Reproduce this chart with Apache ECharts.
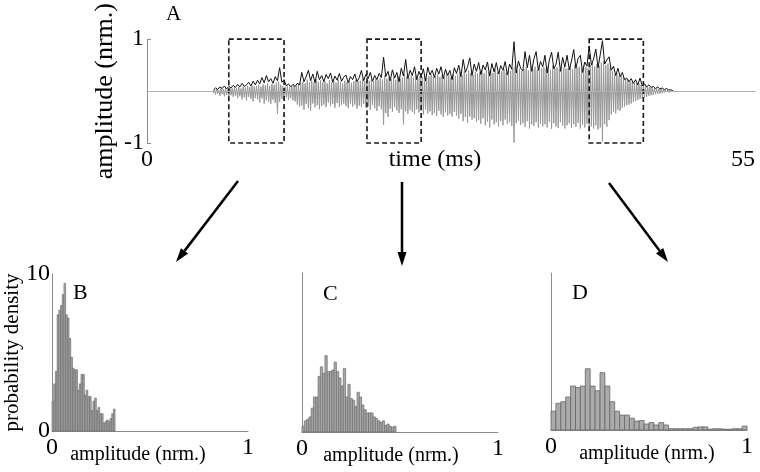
<!DOCTYPE html>
<html><head><meta charset="utf-8">
<script src="https://cdn.jsdelivr.net/npm/echarts@6/dist/echarts.min.js"></script>
<style>html,body{margin:0;padding:0;background:#fff}#c{width:760px;height:472px}</style>
</head><body><div id="c"></div><script>
// ---- waveform (panel A) ----
const traceStart = 6.0;      // ms, first sample of black trace
const traceStep = 0.2;       // ms between samples
const blackTrace = [
 0.02,0.06,0.03,0.08,0.05,0.10,0.04,0.09,0.06,0.11,
 0.07,0.13,0.08,0.15,0.09,0.12,0.17,0.10,0.19,0.12,
 0.21,0.14,0.26,0.16,0.30,0.18,0.24,0.15,0.28,0.20,
 0.45,0.17,0.22,0.10,0.14,0.08,0.13,0.09,0.15,0.12,
 0.36,0.18,0.28,0.40,0.20,0.33,0.16,0.38,0.22,0.30,
 0.18,0.32,0.24,0.35,0.17,0.29,0.21,0.34,0.19,0.27,
 0.31,0.16,0.28,0.22,0.33,0.18,0.26,0.40,0.20,0.32,
 0.24,0.36,0.19,0.30,0.22,0.34,0.26,0.65,0.28,0.38,
 0.20,0.41,0.25,0.36,0.18,0.44,0.29,0.61,0.24,0.40,
 0.30,0.47,0.22,0.38,0.27,0.43,0.20,0.46,0.31,0.40,
 0.26,0.44,0.33,0.47,0.24,0.42,0.30,0.40,0.22,0.45,
 0.34,0.50,0.28,0.61,0.36,0.47,0.64,0.30,0.52,0.38,
 0.55,0.32,0.50,0.41,0.56,0.29,0.53,0.37,0.55,0.33,
 0.49,0.40,0.57,0.31,0.52,0.42,0.95,0.35,0.58,0.44,
 0.39,0.76,0.45,0.69,0.38,0.62,0.76,0.40,0.57,0.47,
 0.69,0.35,0.60,0.75,0.43,0.52,0.75,0.38,0.65,0.46,
 0.69,0.41,0.58,0.80,0.44,0.63,0.69,0.36,0.56,0.48,
 0.87,0.50,0.62,0.81,0.45,0.70,0.97,0.52,0.60,0.66,
 0.40,0.48,0.30,0.44,0.28,0.36,0.22,0.25,0.18,0.24,
 0.15,0.22,0.12,0.25,0.10,0.14,0.08,0.12,0.07,0.09,
 0.05,0.08,0.04,0.06,0.03,0.05,0.02,0.025,0.0
];
const grayStart = 6.0;       // ms, first sample of gray trace
const grayStep = 0.1;        // ms between samples
const grayTrace = [
 -0.04,0.03,-0.07,0.05,-0.05,0.02,-0.09,0.06,-0.06,0.04,-0.10,0.05,-0.07,0.03,-0.12,0.06,-0.08,0.05,-0.11,0.07,
 -0.09,0.06,-0.14,0.08,-0.10,0.05,-0.16,0.09,-0.12,0.07,-0.18,0.10,-0.11,0.08,-0.15,0.11,-0.20,0.09,-0.13,0.10,
 -0.16,0.12,-0.22,0.09,-0.14,0.13,-0.24,0.11,-0.18,0.15,-0.21,0.10,-0.25,0.14,-0.17,0.12,-0.23,0.16,-0.44,0.18,
 -0.21,0.12,-0.15,0.09,-0.19,0.08,-0.12,0.10,-0.17,0.07,-0.14,0.09,-0.18,0.11,-0.20,0.10,-0.26,0.14,-0.30,0.16,
 -0.28,0.18,-0.36,0.15,-0.25,0.22,-0.33,0.17,-0.38,0.20,-0.24,0.16,-0.31,0.23,-0.27,0.18,-0.35,0.21,-0.29,0.17,
 -0.26,0.19,-0.31,0.15,-0.22,0.21,-0.29,0.17,-0.25,0.20,-0.32,0.16,-0.23,0.22,-0.30,0.18,-0.27,0.15,-0.24,0.20,
 -0.29,0.17,-0.33,0.21,-0.24,0.16,-0.30,0.19,-0.26,0.22,-0.34,0.18,-0.28,0.20,-0.31,0.24,-0.25,0.19,-0.32,0.21,
 -0.30,0.20,-0.36,0.23,-0.27,0.19,-0.33,0.24,-0.38,0.21,-0.29,0.25,-0.35,0.22,-0.65,0.30,-0.42,0.24,-0.50,0.26,
 -0.34,0.23,-0.40,0.27,-0.31,0.22,-0.37,0.29,-0.42,0.24,-0.35,0.26,-0.64,0.33,-0.39,0.28,-0.44,0.25,-0.36,0.30,
 -0.40,0.26,-0.44,0.30,-0.35,0.24,-0.41,0.29,-0.38,0.27,-0.45,0.31,-0.36,0.25,-0.43,0.29,-0.39,0.32,-0.46,0.27,
 -0.42,0.29,-0.48,0.33,-0.38,0.27,-0.45,0.31,-0.50,0.28,-0.41,0.34,-0.47,0.30,-0.44,0.26,-0.49,0.32,-0.40,0.29,
 -0.47,0.32,-0.53,0.36,-0.44,0.30,-0.58,0.38,-0.50,0.33,-0.61,0.40,-0.49,0.35,-0.55,0.31,-0.52,0.37,-0.59,0.34,
 -0.56,0.36,-0.63,0.40,-0.52,0.34,-0.66,0.41,-0.59,0.37,-0.70,0.39,-0.55,0.35,-0.64,0.42,-0.60,0.36,-0.68,0.40,
 -0.58,0.38,-0.66,0.42,-0.55,0.36,-0.63,0.41,-0.60,0.39,-0.67,0.44,-0.99,0.48,-0.62,0.40,-0.57,0.43,-0.65,0.39,
 -0.62,0.42,-0.69,0.46,-0.58,0.40,-0.72,0.48,-0.64,0.43,-0.67,0.47,-0.60,0.41,-0.70,0.45,-0.63,0.44,-0.68,0.46,
 -0.64,0.43,-0.70,0.47,-0.59,0.41,-0.73,0.49,-0.62,0.44,-0.68,0.46,-0.71,0.42,-0.60,0.48,-0.66,0.45,-0.72,0.43,
 -0.66,0.44,-0.62,0.48,-0.71,0.42,-0.64,0.50,-0.69,0.45,-0.61,0.47,-0.72,0.43,-0.65,0.49,-0.70,0.46,-0.63,0.44,
 -0.75,0.50,-0.68,0.54,-0.72,0.47,-0.66,0.52,-0.74,0.49,-0.70,0.55,-0.97,0.58,-0.64,0.50,-0.69,0.53,-0.56,0.46,
 -0.45,0.38,-0.40,0.32,-0.43,0.35,-0.36,0.29,-0.38,0.31,-0.32,0.26,-0.30,0.24,-0.27,0.22,-0.26,0.19,-0.24,0.18,
 -0.21,0.16,-0.19,0.15,-0.17,0.14,-0.15,0.12,-0.14,0.11,-0.12,0.10,-0.11,0.08,-0.09,0.07,-0.08,0.07,-0.07,0.06,
 -0.06,0.05,-0.05,0.04,-0.05,0.04,-0.04,0.03,-0.03,0.03,-0.02,0.02,-0.02,0.01,-0.01,0.01
];
const windows = [[7.4, 12.4], [19.9, 24.8], [40.0, 44.9]];   // ms, dashed boxes
const timeRange = [0, 55];
const ampRange = [-1, 1];

// ---- histograms (panels B, C, D) ----
const binWidthB = 0.0087;
const histB = [1.9,3.0,3.8,7.4,7.7,8.0,8.7,9.4,7.4,7.2,5.9,4.7,4.0,3.9,3.9,2.6,3.0,3.6,3.6,2.3,
 2.6,2.2,2.2,1.3,1.9,2.1,1.3,1.5,1.1,1.1,0.5,0.6,0.7,0.6,0.8,1.1,1.4];
const binWidthC = 0.0117;
const histC = [0.36,0.7,0.8,0.95,1.5,2.2,2.2,3.5,4.1,3.7,4.8,3.8,3.8,3.9,4.4,3.8,3.4,2.9,4.0,2.2,
 3.0,2.1,2.0,1.6,2.5,2.2,1.7,1.4,1.2,1.2,1.2,0.95,0.85,0.7,0.6,0.7,0.4,0.5,0.36,0.3,0.36];
const binWidthD = 0.025;
const histD = [1.2,1.7,1.8,2.1,2.8,2.7,2.8,3.9,2.8,2.5,3.65,2.8,1.8,1.2,0.95,0.95,0.75,0.57,0.6,0.38,
 0.47,0.32,0.47,0.32,0.08,0.08,0.08,0.08,0.08,0.17,0.2,0.2,0.05,0.08,0.08,0.05,0.05,0.08,0.08,0.25];
const densityRange = [0, 10];
const amplitudeRange = [0, 1];

const FONT = 'Liberation Serif';
const chart = echarts.init(document.getElementById('c'), null, {renderer: 'canvas'});

const blackData = blackTrace.map((v, i) => [+(traceStart + i * traceStep).toFixed(2), v]);
const grayData = grayTrace.map((v, i) => [+(grayStart + i * grayStep).toFixed(2), v]);
const binsOf = (vals, w) => vals.map((v, i) => [i * w, (i + 1) * w, v]);

function histRender(fill, stroke, lw) {
  return function (params, api) {
    const p0 = api.coord([api.value(0), api.value(2)]);
    const p1 = api.coord([api.value(1), 0]);
    return {type: 'rect', shape: {x: p0[0], y: p0[1], width: p1[0] - p0[0], height: p1[1] - p0[1]},
      style: {fill: fill, stroke: stroke, lineWidth: lw}};
  };
}

const axisLineStyle = {show: true, lineStyle: {color: '#8c8c8c', width: 1}};
const tickStyle = {show: true, inside: true, length: 4, lineStyle: {color: '#8c8c8c'}};
const lbl = (extra) => Object.assign({fontFamily: FONT, fontSize: 24, color: '#000'}, extra || {});

function histX(grid, padRight) {
  return {type: 'value', gridIndex: grid, min: amplitudeRange[0], max: amplitudeRange[1], interval: 1,
    axisLine: axisLineStyle, axisTick: {show: false}, splitLine: {show: false},
    axisLabel: lbl({margin: 5}),
    name: 'amplitude (nrm.)', nameLocation: 'middle', nameGap: 14, nameMoveOverlap: false,
    nameTextStyle: {fontFamily: FONT, fontSize: 20, color: '#000', padding: [0, padRight, 0, 0]}};
}
function histY(grid, showLabels) {
  const ax = {type: 'value', gridIndex: grid, min: densityRange[0], max: densityRange[1], interval: 10,
    axisLine: axisLineStyle, axisTick: {show: false}, splitLine: {show: false},
    axisLabel: lbl({show: showLabels, margin: 2})};
  if (showLabels) {
    ax.name = 'probability density'; ax.nameLocation = 'middle'; ax.nameRotate = 90; ax.nameGap = 29;
    ax.nameMoveOverlap = false;
    ax.nameTextStyle = {fontFamily: FONT, fontSize: 21, color: '#000'};
  }
  return ax;
}

function arrow(x1, y1, x2, y2) {
  const L = 14, W = 4.5;
  const dx = x2 - x1, dy = y2 - y1, len = Math.hypot(dx, dy);
  const ux = dx / len, uy = dy / len;
  const bx = x2 - ux * L, by = y2 - uy * L;
  return [
    {type: 'line', shape: {x1: x1, y1: y1, x2: bx, y2: by}, style: {stroke: '#000', lineWidth: 2.5}},
    {type: 'polygon', shape: {points: [[x2, y2], [bx - uy * W, by + ux * W], [bx + uy * W, by - ux * W]]}, style: {fill: '#000'}}
  ];
}

const titleStyle = {fontFamily: FONT, fontSize: 21, fontWeight: 'normal', color: '#000'};

const option = {
  backgroundColor: '#fff',
  animation: false,
  title: [
    {text: 'A', left: 166, top: 4, padding: 0, textStyle: titleStyle},
    {text: 'B', left: 73, top: 282, padding: 0, textStyle: Object.assign({}, titleStyle, {fontSize: 22})},
    {text: 'C', left: 323, top: 283, padding: 0, textStyle: Object.assign({}, titleStyle, {fontSize: 22})},
    {text: 'D', left: 572, top: 282, padding: 0, textStyle: Object.assign({}, titleStyle, {fontSize: 22})}
  ],
  grid: [
    {left: 147, top: 37, width: 608, height: 106},
    {left: 52, top: 274, width: 196, height: 157},
    {left: 302, top: 273, width: 196, height: 159},
    {left: 551, top: 273, width: 196, height: 157}
  ],
  xAxis: [
    {type: 'value', gridIndex: 0, min: timeRange[0], max: timeRange[1], interval: 55,
      axisLine: axisLineStyle, axisTick: {show: false}, splitLine: {show: false},
      axisLabel: lbl({margin: 5, alignMaxLabel: 'right'}),
      name: 'time (ms)', nameLocation: 'middle', nameGap: 5, nameMoveOverlap: false,
      nameTextStyle: {fontFamily: FONT, fontSize: 24, color: '#000', padding: [0, 32, 0, 0]}},
    histX(1, 24), histX(2, 18), histX(3, 4)
  ],
  yAxis: [
    {type: 'value', gridIndex: 0, min: ampRange[0], max: ampRange[1], interval: 1,
      axisLine: axisLineStyle, axisTick: tickStyle, splitLine: {show: false},
      axisLabel: lbl({margin: 3, formatter: v => (v === 0 ? '' : String(v))}),
      name: 'amplitude (nrm.)', nameLocation: 'middle', nameRotate: 90, nameGap: 29, nameMoveOverlap: false,
      nameTextStyle: {fontFamily: FONT, fontSize: 26, color: '#000'}},
    histY(1, true), histY(2, false), histY(3, false)
  ],
  series: [
    {type: 'line', xAxisIndex: 0, yAxisIndex: 0, data: grayData, showSymbol: false, symbol: 'none',
      lineStyle: {color: '#999999', width: 1}, areaStyle: {color: '#a3a3a3', opacity: 1, origin: 0}, z: 2,
      markLine: {silent: true, symbol: 'none', label: {show: false},
        lineStyle: {color: '#b0b0b0', width: 1, type: 'solid'}, data: [{yAxis: 0}]}},
    {type: 'line', xAxisIndex: 0, yAxisIndex: 0, data: blackData, showSymbol: false, symbol: 'none',
      lineStyle: {color: '#111', width: 1}, z: 3,
      markArea: {silent: true, z: 5,
        itemStyle: {color: 'rgba(0,0,0,0)', borderColor: '#1a1a1a', borderWidth: 1.6, borderType: [5, 3]},
        data: windows.map(w => [{coord: [w[0], ampRange[1]]}, {coord: [w[1], ampRange[0]]}])}},
    {type: 'custom', xAxisIndex: 1, yAxisIndex: 1, data: binsOf(histB, binWidthB),
      encode: {x: [0, 1], y: 2}, renderItem: histRender('#a6a6a6', '#666', 0.6)},
    {type: 'custom', xAxisIndex: 2, yAxisIndex: 2, data: binsOf(histC, binWidthC),
      encode: {x: [0, 1], y: 2}, renderItem: histRender('#aaaaaa', '#6a6a6a', 0.7)},
    {type: 'custom', xAxisIndex: 3, yAxisIndex: 3, data: binsOf(histD, binWidthD),
      encode: {x: [0, 1], y: 2}, renderItem: histRender('#ababab', '#666', 0.8)}
  ],
  graphic: [].concat(
    arrow(238, 181, 176, 262),
    arrow(402, 182, 402, 266),
    arrow(609, 183, 668, 262)
  )
};
chart.setOption(option);
</script></body></html>
